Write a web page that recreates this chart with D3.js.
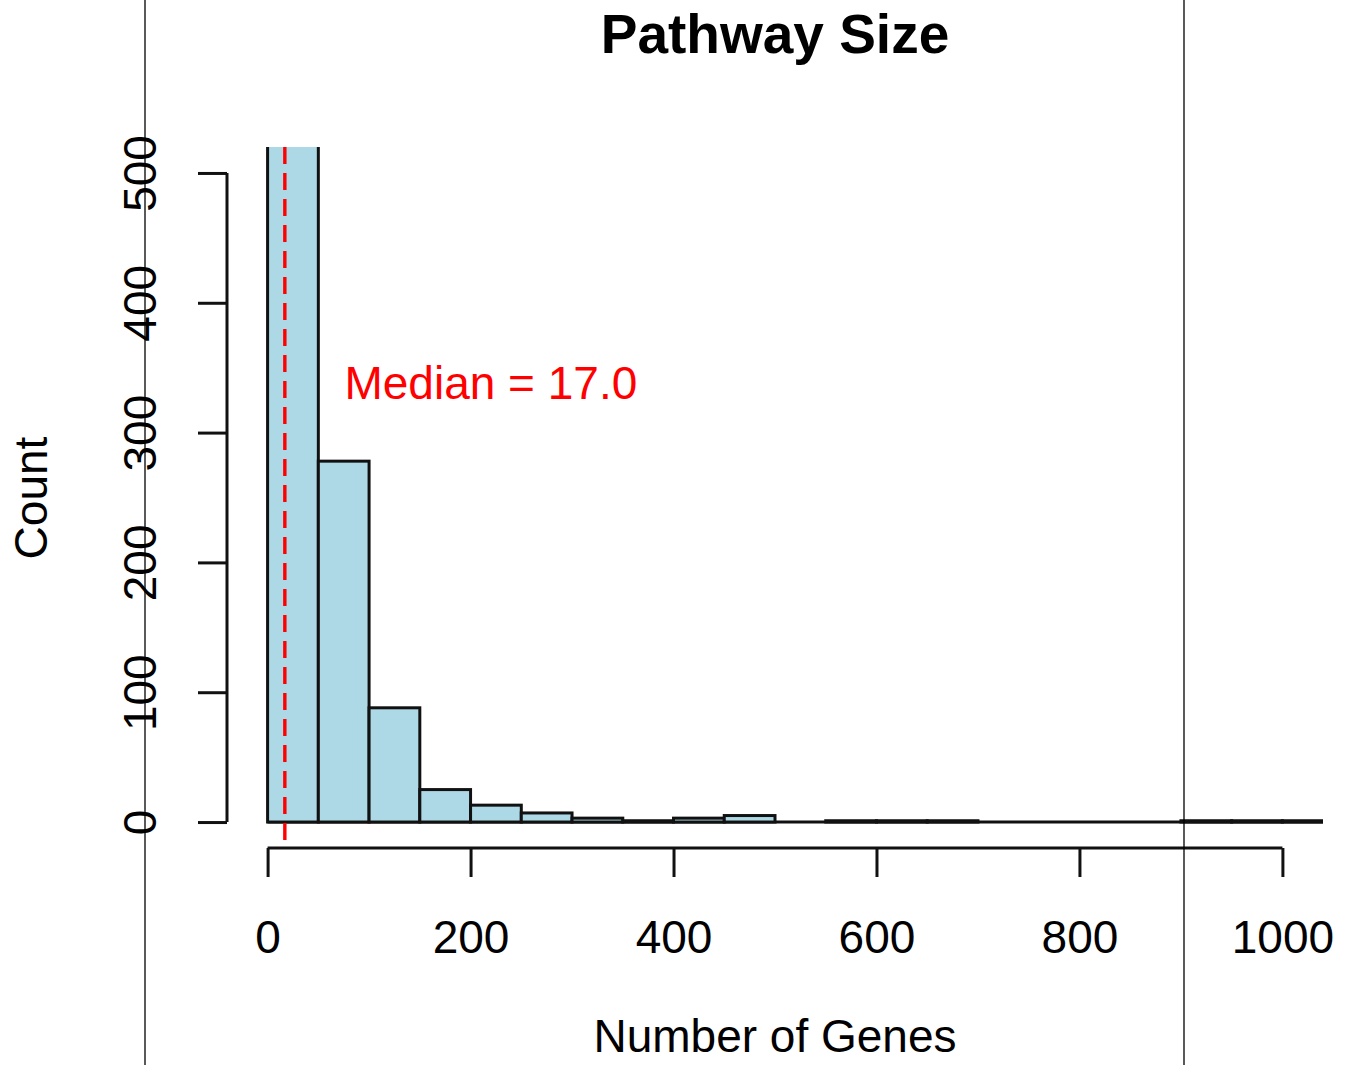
<!DOCTYPE html>
<html>
<head>
<meta charset="utf-8">
<script src="https://cdn.jsdelivr.net/npm/d3@7"></script>
<style>
  body { margin: 0; background: #fff; }
  svg { display: block; font-family: "Liberation Sans", Arial, sans-serif; }
</style>
</head>
<body>
<div id="chart"></div>
<script>
// histogram bins (width 50), counts
const binStarts = [0, 50, 100, 150, 200, 250, 300, 350, 400, 450, 500, 550, 600, 650, 700, 750, 800, 850, 900, 950, 1000];
const binWidth = 50;
const counts = [900, 278, 88, 25, 13, 7, 3, 1, 3, 5, 0, 1, 1, 1, 0, 0, 0, 0, 1, 1, 1];
const xTicks = [0, 200, 400, 600, 800, 1000];
const yTicks = [0, 100, 200, 300, 400, 500];
const median = 17.0;

const width = 1350;
const height = 1065;
const lw = 3;

const svg = d3.select("#chart").append("svg").attr("width", width).attr("height", height);

// R style: limits extended by 4%
const x = d3.scaleLinear().domain([-40, 1040]).range([227, 1323]);
const y = d3.scaleLinear().domain([-20, 520]).range([848, 147]);

// plot region clip
svg.append("clipPath").attr("id", "plotclip")
  .append("rect")
  .attr("x", x(-40)).attr("y", y(520))
  .attr("width", x(1040) - x(-40)).attr("height", y(-20) - y(520));

const bins = binStarts.map((b, i) => ({ x0: b, x1: b + binWidth, count: counts[i] }));

const plot = svg.append("g").attr("clip-path", "url(#plotclip)");

// zero-height bins still leave a line on the baseline, like R
plot.append("line")
  .attr("x1", x(binStarts[0])).attr("x2", x(binStarts[binStarts.length - 1] + binWidth))
  .attr("y1", y(0)).attr("y2", y(0))
  .attr("stroke", "#111").attr("stroke-width", lw);

plot.selectAll("rect.bar")
  .data(bins.filter((d) => d.count > 0))
  .join("rect")
  .attr("class", "bar")
  .attr("x", (d) => x(d.x0))
  .attr("y", (d) => y(d.count))
  .attr("width", (d) => x(d.x1) - x(d.x0))
  .attr("height", (d) => y(0) - y(d.count))
  .attr("fill", "#add8e6")
  .attr("stroke", "#111")
  .attr("stroke-width", lw);

// median line
plot.append("line")
  .attr("x1", x(median)).attr("x2", x(median))
  .attr("y1", y(520)).attr("y2", y(-20))
  .attr("stroke", "#ff0000")
  .attr("stroke-width", 3.4)
  .attr("stroke-dasharray", "17,9");

svg.append("text")
  .attr("x", x(220)).attr("y", y(338))
  .attr("text-anchor", "middle")
  .attr("dominant-baseline", "central")
  .attr("fill", "#ff0000")
  .attr("font-size", 46)
  .text("Median = " + median.toFixed(1));

// y axis
const yAxis = svg.append("g")
  .attr("transform", `translate(${x(-40)},0)`)
  .call(d3.axisLeft(y).tickValues(yTicks).tickSize(29).tickSizeOuter(0));
yAxis.select(".domain").remove();
yAxis.append("line")
  .attr("y1", y(0)).attr("y2", y(500))
  .attr("stroke", "#111").attr("stroke-width", lw);
yAxis.selectAll(".tick line").attr("stroke", "#111").attr("stroke-width", lw);
yAxis.selectAll(".tick text")
  .attr("x", null).attr("dy", null)
  .attr("transform", "translate(-71,0) rotate(-90)")
  .attr("text-anchor", "middle")
  .attr("fill", "#000")
  .attr("font-size", 46)
  .attr("font-family", "Liberation Sans, Arial, sans-serif");

// x axis
const xAxis = svg.append("g")
  .attr("transform", `translate(0,${y(-20)})`)
  .call(d3.axisBottom(x).tickValues(xTicks).tickFormat(d3.format("d")).tickSize(29).tickSizeOuter(0));
xAxis.select(".domain").remove();
xAxis.append("line")
  .attr("x1", x(0)).attr("x2", x(1000))
  .attr("stroke", "#111").attr("stroke-width", lw);
xAxis.selectAll(".tick line").attr("stroke", "#111").attr("stroke-width", lw);
xAxis.selectAll(".tick text")
  .attr("y", 105).attr("dy", null)
  .attr("fill", "#000")
  .attr("font-size", 46)
  .attr("font-family", "Liberation Sans, Arial, sans-serif");

// titles
svg.append("text")
  .attr("x", 775).attr("y", 53)
  .attr("text-anchor", "middle")
  .attr("font-size", 55)
  .attr("font-weight", "bold")
  .text("Pathway Size");

svg.append("text")
  .attr("x", 775).attr("y", 1052)
  .attr("text-anchor", "middle")
  .attr("font-size", 46)
  .text("Number of Genes");

svg.append("text")
  .attr("transform", "translate(47,498) rotate(-90)")
  .attr("text-anchor", "middle")
  .attr("font-size", 46)
  .text("Count");

// thin panel border lines
[145, 1184].forEach((px) => {
  svg.append("line")
    .attr("x1", px).attr("x2", px)
    .attr("y1", 0).attr("y2", height)
    .attr("stroke", "#000").attr("stroke-width", 1.3);
});
</script>
</body>
</html>
